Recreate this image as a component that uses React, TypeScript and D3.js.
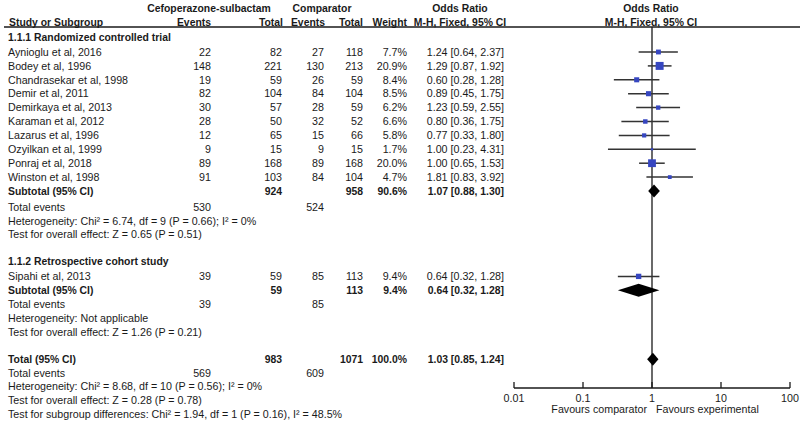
import * as d3 from "d3";

// study rows
const studyNames = [
  "Aynioglu et al, 2016",
  "Bodey et al, 1996",
  "Chandrasekar et al, 1998",
  "Demir et al, 2011",
  "Demirkaya et al, 2013",
  "Karaman et al, 2012",
  "Lazarus et al, 1996",
  "Ozyilkan et al, 1999",
  "Ponraj et al, 2018",
  "Winston et al, 1998",
  "Sipahi et al, 2013",
];
const studyGroup = [0, 0, 0, 0, 0, 0, 0, 0, 0, 0, 1];
const expEvents = [22, 148, 19, 82, 30, 28, 12, 9, 89, 91, 39];
const expTotals = [82, 221, 59, 104, 57, 50, 65, 15, 168, 103, 59];
const compEvents = [27, 130, 26, 84, 28, 32, 15, 9, 89, 84, 85];
const compTotals = [118, 213, 59, 104, 59, 52, 66, 15, 168, 104, 113];
const weights = [7.7, 20.9, 8.4, 8.5, 6.2, 6.6, 5.8, 1.7, 20.0, 4.7, 9.4];
const oddsRatios = [1.24, 1.29, 0.6, 0.89, 1.23, 0.8, 0.77, 1.0, 1.0, 1.81, 0.64];
const ciLower = [0.64, 0.87, 0.28, 0.45, 0.59, 0.36, 0.33, 0.23, 0.65, 0.83, 0.32];
const ciUpper = [2.37, 1.92, 1.28, 1.75, 2.55, 1.75, 1.8, 4.31, 1.53, 3.92, 1.28];

// subgroups
const groupTitles = ["1.1.1 Randomized controlled trial", "1.1.2 Retrospective cohort study"];
const groupExpTotal = [924, 59];
const groupCompTotal = [958, 113];
const groupWeight = ["90.6%", "9.4%"];
const groupOR = [1.07, 0.64];
const groupLo = [0.88, 0.32];
const groupHi = [1.3, 1.28];
const groupExpEvents = [530, 39];
const groupCompEvents = [524, 85];
const groupHetero = [
  "Heterogeneity: Chi² = 6.74, df = 9 (P = 0.66); I² = 0%",
  "Heterogeneity: Not applicable",
];
const groupTest = [
  "Test for overall effect: Z = 0.65 (P = 0.51)",
  "Test for overall effect: Z = 1.26 (P = 0.21)",
];

// overall
const totalExp = 983;
const totalComp = 1071;
const totalOR = [1.03, 0.85, 1.24];
const totalExpEvents = 569;
const totalCompEvents = 609;
const totalLines = [
  "Heterogeneity: Chi² = 8.68, df = 10 (P = 0.56); I² = 0%",
  "Test for overall effect: Z = 0.28 (P = 0.78)",
  "Test for subgroup differences: Chi² = 1.94, df = 1 (P = 0.16), I² = 48.5%",
];

const axisTicks = [0.01, 0.1, 1, 10, 100];
const axisTickLabels = ["0.01", "0.1", "1", "10", "100"];

const W = 800;
const H = 423;
const FONT = "'Liberation Sans', Arial, sans-serif";

const fmt = (v: number) => v.toFixed(2);
const ciText = (o: number, l: number, h: number) => `${fmt(o)} [${fmt(l)}, ${fmt(h)}]`;

export default function App() {
  const x = d3.scaleLog().domain([0.01, 100]).range([514, 790]);
  const rowY = d3.scaleLinear().domain([0, 26]).range([52, 413.4]);
  const boxSize = d3.scaleSqrt().domain([0, 21]).range([0, 8]);
  const axisY = 388;

  const col = { name: 8, expEv: 211, expTot: 282, compEv: 324, compTot: 363, weight: 407, ci: 504 };

  type Line = {
    y: number;
    bold?: boolean;
    name?: string;
    cells?: (string | number | null)[];
    study?: number;
    diamond?: number[];
  };
  const lines: Line[] = [];
  let idx = 0;
  let shift = 0;
  groupTitles.forEach((title, g) => {
    lines.push({ y: rowY(idx - 1) - 1 + shift, bold: true, name: title });
    studyNames.forEach((n, i) => {
      if (studyGroup[i] !== g) return;
      lines.push({
        y: rowY(idx) + shift,
        name: n,
        cells: [expEvents[i], expTotals[i], compEvents[i], compTotals[i], weights[i].toFixed(1) + "%", ciText(oddsRatios[i], ciLower[i], ciUpper[i])],
        study: i,
      });
      idx++;
    });
    lines.push({
      y: rowY(idx) + shift,
      bold: true,
      name: "Subtotal (95% CI)",
      cells: [null, groupExpTotal[g], null, groupCompTotal[g], groupWeight[g], ciText(groupOR[g], groupLo[g], groupHi[g])],
      diamond: [groupOR[g], groupLo[g], groupHi[g]],
    });
    idx++;
    if (g === 0) shift = 2;
    lines.push({ y: rowY(idx) + shift, name: "Total events", cells: [groupExpEvents[g], null, groupCompEvents[g], null, null, null] });
    idx++;
    lines.push({ y: rowY(idx) + shift, name: groupHetero[g] });
    idx++;
    lines.push({ y: rowY(idx) + shift, name: groupTest[g] });
    idx += 3;
  });
  idx -= 1;
  lines.push({
    y: rowY(idx) + shift - 0.5,
    bold: true,
    name: "Total (95% CI)",
    cells: [null, totalExp, null, totalComp, "100.0%", ciText(totalOR[0], totalOR[1], totalOR[2])],
    diamond: totalOR,
  });
  idx++;
  lines.push({ y: rowY(idx) + shift - 0.5, name: "Total events", cells: [totalExpEvents, null, totalCompEvents, null, null, null] });
  idx++;
  totalLines.forEach((t) => {
    lines.push({ y: rowY(idx) + shift - 1, name: t });
    idx++;
  });

  const cellX = [col.expEv, col.expTot, col.compEv, col.compTot, col.weight, col.ci];
  const ink = "#1a1a1a";
  const fsNormal = 10.7;
  const fsBold = 10.4;

  return (
    <svg width={W} height={H} style={{ position: "absolute", left: 0, top: 0, background: "#fff" }} fontFamily={FONT} fontSize={fsNormal} fill={ink}>
      {/* headers */}
      <g fontWeight="bold" fontSize={fsBold}>
        <text x={209} y={8} dy="0.35em" textAnchor="middle">Cefoperazone-sulbactam</text>
        <text x={322} y={8} dy="0.35em" textAnchor="middle">Comparator</text>
        <text x={460} y={8} dy="0.35em" textAnchor="middle">Odds Ratio</text>
        <text x={651} y={8} dy="0.35em" textAnchor="middle">Odds Ratio</text>
        <text x={col.name + 1} y={22} dy="0.35em">Study or Subgroup</text>
        <text x={col.expEv} y={22} dy="0.35em" textAnchor="end">Events</text>
        <text x={col.expTot + 1} y={22} dy="0.35em" textAnchor="end">Total</text>
        <text x={col.compEv + 1} y={22} dy="0.35em" textAnchor="end">Events</text>
        <text x={col.compTot} y={22} dy="0.35em" textAnchor="end">Total</text>
        <text x={col.weight} y={22} dy="0.35em" textAnchor="end">Weight</text>
        <text x={460} y={22} dy="0.35em" textAnchor="middle">M-H, Fixed, 95% CI</text>
        <text x={651} y={22} dy="0.35em" textAnchor="middle">M-H, Fixed, 95% CI</text>
      </g>
      <line x1={4} x2={W} y1={27} y2={27} stroke={ink} strokeWidth={1.3} />

      {/* null line */}
      <line x1={x(1)} x2={x(1)} y1={27} y2={axisY} stroke={ink} strokeWidth={1.3} />

      {lines.map((l, k) => (
        <g key={k} fontWeight={l.bold ? "bold" : "normal"} fontSize={l.bold ? fsBold : fsNormal}>
          {l.name && (
            <text x={col.name} y={l.y} dy="0.35em">{l.name}</text>
          )}
          {l.cells &&
            l.cells.map((c, j) =>
              c === null ? null : (
                <text key={j} x={cellX[j]} y={l.y} dy="0.35em" textAnchor="end">{c}</text>
              )
            )}
          {l.study !== undefined && (
            <g>
              <line x1={x(ciLower[l.study])} x2={x(ciUpper[l.study])} y1={l.y} y2={l.y} stroke="#333" strokeWidth={1.5} />
              <rect
                x={x(oddsRatios[l.study]) - boxSize(weights[l.study]) / 2}
                y={l.y - boxSize(weights[l.study]) / 2}
                width={boxSize(weights[l.study])}
                height={boxSize(weights[l.study])}
                fill="#3646c0"
              />
            </g>
          )}
          {l.diamond && (
            <path
              d={`M${x(l.diamond[1])},${l.y} L${x(l.diamond[0])},${l.y - 6.5} L${x(l.diamond[2])},${l.y} L${x(l.diamond[0])},${l.y + 6.5} Z`}
              fill="#000"
            />
          )}
        </g>
      ))}

      {/* axis */}
      <g>
        <line x1={x(0.01)} x2={x(100)} y1={axisY} y2={axisY} stroke={ink} strokeWidth={1.3} />
        {axisTicks.map((t, i) => (
          <g key={t}>
            <line x1={x(t)} x2={x(t)} y1={axisY - 6} y2={axisY} stroke={ink} strokeWidth={1.3} />
            <text x={x(t)} y={398} dy="0.35em" textAnchor="middle">{axisTickLabels[i]}</text>
          </g>
        ))}
        <text x={647} y={409} dy="0.35em" textAnchor="end">Favours comparator</text>
        <text x={656} y={409} dy="0.35em">Favours experimental</text>
      </g>
    </svg>
  );
}
